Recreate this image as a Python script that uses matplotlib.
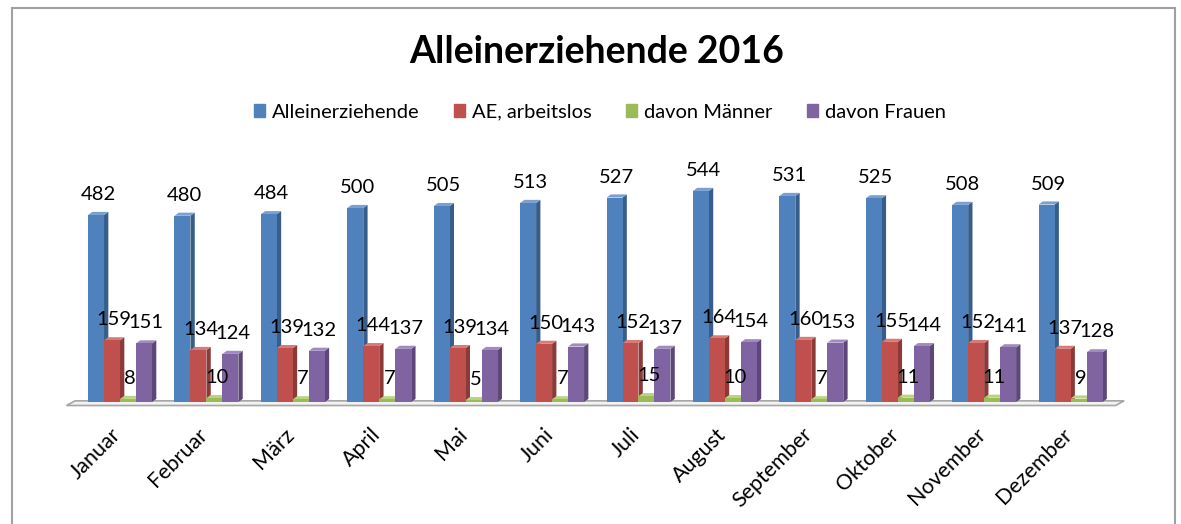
import matplotlib
matplotlib.use("Agg")
import matplotlib.pyplot as plt
from matplotlib.patches import Rectangle, Patch
from matplotlib.transforms import ScaledTranslation
import numpy as np

plt.rcParams['font.family'] = ['Lato', 'DejaVu Sans']

# data
months = ["Januar", "Februar", "März", "April", "Mai", "Juni", "Juli",
          "August", "September", "Oktober", "November", "Dezember"]
alleinerziehende = [482, 480, 484, 500, 505, 513, 527, 544, 531, 525, 508, 509]
ae_arbeitslos = [159, 134, 139, 144, 139, 150, 152, 164, 160, 155, 152, 137]
davon_maenner = [8, 10, 7, 7, 5, 7, 15, 10, 7, 11, 11, 9]
davon_frauen = [151, 124, 132, 137, 134, 143, 137, 154, 153, 144, 141, 128]

series = [
	("Alleinerziehende", alleinerziehende, "#4F81BD", "#385D8A", "#7AA0D2"),
	("AE, arbeitslos", ae_arbeitslos, "#C0504D", "#8C3A38", "#D77B78"),
	("davon Männer", davon_maenner, "#9BBB59", "#71893F", "#B9D37F"),
	("davon Frauen", davon_frauen, "#8064A2", "#5C4776", "#A08AC0"),
]

fig = plt.figure(figsize=(11.81, 5.24), dpi=100)
ax = fig.add_axes([0.0504, 0.2328, 0.9073, 0.4443])

x = np.arange(len(months))
w = 0.185
dx = 0.05   # depth of the 3d side
dy = 8.0

# floor
ax.fill([-0.62, 11.52, 11.62, -0.52], [-9, -9, 3, 3], facecolor="#F2F2F2",
	edgecolor="#A6A6A6", lw=1.2, clip_on=False, zorder=1)

for k, (name, vals, col, side, top) in enumerate(series):
	xs = x + (k - 1.5) * w
	for xi, v in zip(xs, vals):
		l = xi - w / 2
		r = xi + w / 2
		ax.fill([r, r + dx, r + dx, r], [0, dy, v + dy, v], color=side, lw=0, zorder=2 + k)
		ax.fill([l, l + dx, r + dx, r], [v, v + dy, v + dy, v], color=top, lw=0, zorder=2 + k)
		ax.bar(xi, v, width=w, color=col, lw=0, zorder=2 + k)
		ax.annotate(str(v), (xi + dx / 2, v + dy), xytext=(0, 12.5), textcoords="offset points",
			ha="center", va="center", fontsize=14.5, zorder=10)

ax.set_xlim(-0.7, 11.7)
ax.set_ylim(0, 600)
ax.set_xticks(x)
ax.set_xticklabels(months, rotation=45, ha="right", va="top", rotation_mode="anchor", fontsize=15.5)
ax.tick_params(axis="x", length=0, pad=16)
shift = ScaledTranslation(-9 / 100, 0, fig.dpi_scale_trans)
for lab in ax.get_xticklabels():
	lab.set_transform(lab.get_transform() + shift)
ax.set_yticks([])
for s in ax.spines.values():
	s.set_visible(False)
ax.patch.set_visible(False)

fig.text(0.505, 0.90, "Alleinerziehende 2016", ha="center", va="center",
	fontsize=27, fontweight="bold")

handles = [Patch(color=c) for _, _, c, _, _ in series]
fig.legend(handles, [s[0] for s in series], loc="center", bbox_to_anchor=(0.508, 0.786),
	ncol=4, frameon=False, fontsize=14.5, handlelength=0.55, handleheight=0.55,
	handletextpad=0.35, columnspacing=1.7)

# chart border
fig.patches.append(Rectangle((12 / 1181, -0.01), 1163 / 1181, 1.0 - 8 / 524 + 0.01,
	transform=fig.transFigure, fill=False, edgecolor="#A0A0A0", lw=1.5))

fig.savefig("out.png", dpi=100)
